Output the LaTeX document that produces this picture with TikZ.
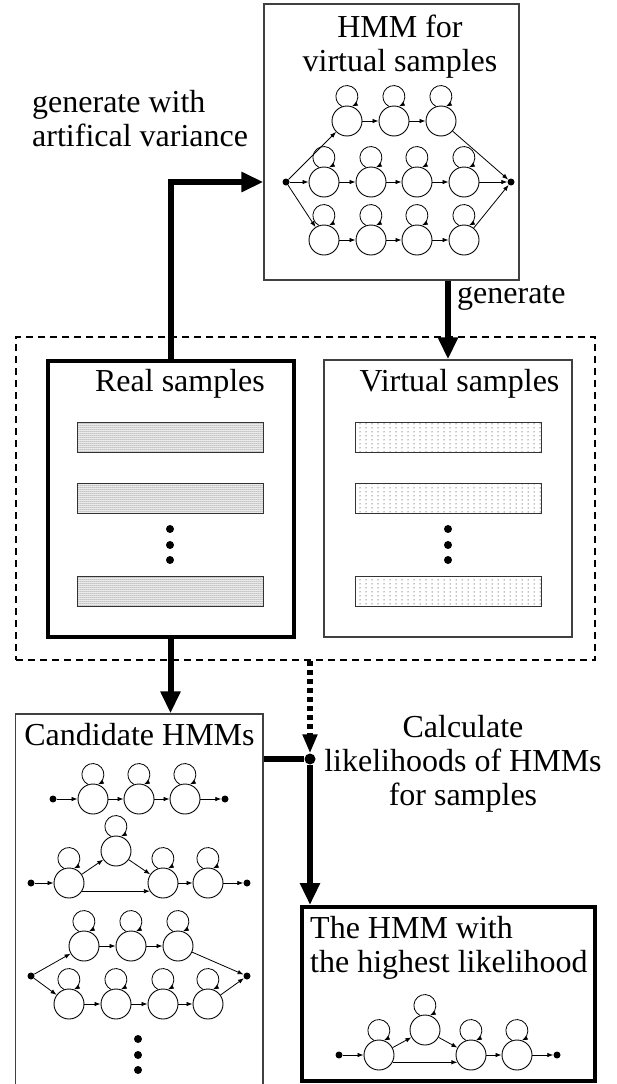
\documentclass[tikz,border=0pt]{standalone}
\usepackage{fontspec}
\setmainfont{Liberation Serif}
\usetikzlibrary{arrows.meta,patterns}

% fill patterns of the sample bars
\pgfdeclarepatternformonly{densedots}{\pgfqpoint{-1pt}{-1pt}}{\pgfqpoint{1pt}{1pt}}{\pgfqpoint{2pt}{2pt}}{%
  \pgfpathcircle{\pgfpointorigin}{0.5pt}\pgfusepath{fill}}
\pgfdeclarepatternformonly{sparsedots}{\pgfqpoint{-1pt}{-1pt}}{\pgfqpoint{5pt}{3pt}}{\pgfqpoint{6pt}{4pt}}{%
  \pgfpathcircle{\pgfpointorigin}{0.5pt}\pgfusepath{fill}}

\tikzset{
  % HMM parts: state circle, start/end dot, transitions
  hstate/.style = {circle, draw=black, line width=0.9pt, minimum size=30pt, inner sep=0pt},
  termdot/.style = {circle, fill=black, minimum size=7pt, inner sep=0pt},
  moredot/.style = {circle, fill=black, minimum size=8pt, inner sep=0pt},
  trans/.style = {-{Latex[length=6pt,width=4.5pt]}, line width=0.8pt},
  selfloop/.style = {trans},
  % boxes
  thinbox/.style = {rectangle, draw=black!75, line width=1.2pt, inner sep=0pt},
  thickbox/.style = {rectangle, draw=black, line width=4pt, inner sep=0pt},
  sampleframe/.style = {rectangle, draw=black, line width=2pt, dash pattern=on 7pt off 5pt, inner sep=0pt},
  realbar/.style = {rectangle, draw=black!80, line width=0.8pt, pattern=densedots,
    minimum width=186pt, minimum height=30pt, inner sep=0pt},
  virtbar/.style = {realbar, pattern=sparsedots},
  boxtitle/.style = {inner sep=0pt, align=center},
  % big arrows between the boxes
  mainflow/.style = {-{Triangle[width=19pt,length=22pt]}, line width=6pt},
  mainline/.style = {line width=6pt},
  dotflow/.style = {-{Triangle[width=14pt,length=19pt]}, line width=5.5pt, dash pattern=on 5pt off 4pt}
}

\begin{document}
\begin{tikzpicture}[x=1pt, y=-1pt, font=\fontsize{32}{34}\selectfont, line join=miter]
  \useasboundingbox (0,0) rectangle (617,1084);
  % Frame - dashed, round both sample boxes:
  \node[sampleframe, minimum width=579pt, minimum height=323pt] (samples) at (305.5,498.5) {};

  % Box 0 - HMM for virtual samples:
  \node[thinbox, minimum width=255pt, minimum height=276pt] (hmmbox) at (391.5,142) {};
  \node[boxtitle, anchor=north] (hmmtitle) at (400,15) {HMM for\\virtual samples};
  \node[termdot] (vS) at (286,182) {};
  \node[termdot] (vE) at (511,182) {};
  \foreach \i/\x in {1/347,2/394,3/441}
    \node[hstate] (vT\i) at (\x,121) {};
  \foreach \i/\x in {1/324,2/371,3/417,4/464} {
    \node[hstate] (vM\i) at (\x,182) {};
    \node[hstate] (vB\i) at (\x,240) {};
  }
  \foreach \n in {vT1,vT2,vT3,vM1,vM2,vM3,vM4,vB1,vB2,vB3,vB4}
    \draw[selfloop] (\n.109) arc[start angle=243.5, end angle=-63.5, radius=11pt];
  \draw[trans] (vS) -- (vT1);
  \draw[trans] (vS) -- (vM1);
  \draw[trans] (vS) -- (vB1);
  \draw[trans] (vT1) -- (vT2);
  \draw[trans] (vT2) -- (vT3);
  \draw[trans] (vT3) -- (vE);
  \foreach \a/\b in {1/2,2/3,3/4} {
    \draw[trans] (vM\a) -- (vM\b);
    \draw[trans] (vB\a) -- (vB\b);
  }
  \draw[trans] (vM4) -- (vE);
  \draw[trans] (vB4) -- (vE);

  % Box 1 - real samples:
  \node[thickbox, minimum width=246pt, minimum height=276pt] (real) at (170.5,499) {};
  \node[anchor=base, inner sep=0pt] (realtitle) at (180,391) {Real samples};
  % Box 2 - virtual samples:
  \node[thinbox, minimum width=248pt, minimum height=277pt] (virt) at (448,498.5) {};
  \node[anchor=base, inner sep=0pt] (virttitle) at (459.5,391) {Virtual samples};
  \foreach \i/\y in {1/437,2/498.5,3/591.5} {
    \node[realbar] (rbar\i) at (170,\y) {};
    \node[virtbar] (vbar\i) at (448,\y) {};
  }
  \foreach \i/\y in {1/529,2/545,3/560} {
    \node[moredot] (rdot\i) at (170,\y) {};
    \node[moredot] (vdot\i) at (448,\y) {};
  }

  % Box 3 - candidate HMMs:
  \node[thinbox, minimum width=247.5pt, minimum height=376pt] (cand) at (139.25,902) {};
  \node[anchor=base, inner sep=0pt] (candtitle) at (139.5,745) {Candidate HMMs};
  % candidate a - chain of three
  \node[termdot] (aS) at (53,799) {};
  \foreach \i/\x in {1/93,2/139,3/185}
    \node[hstate] (a\i) at (\x,799) {};
  \node[termdot] (aE) at (225,799) {};
  \foreach \n in {a1,a2,a3}
    \draw[selfloop] (\n.109) arc[start angle=243.5, end angle=-63.5, radius=11pt];
  \draw[trans] (aS) -- (a1);
  \draw[trans] (a1) -- (a2);
  \draw[trans] (a2) -- (a3);
  \draw[trans] (a3) -- (aE);
  % candidate b - chain with a skip
  \node[termdot] (bS) at (31,883) {};
  \node[hstate] (b1) at (69,883) {};
  \node[hstate] (b2) at (116,851) {};
  \node[hstate] (b3) at (163,883) {};
  \node[hstate] (b4) at (208,883) {};
  \node[termdot] (bE) at (247,883) {};
  \foreach \n in {b1,b2,b3,b4}
    \draw[selfloop] (\n.109) arc[start angle=243.5, end angle=-63.5, radius=11pt];
  \draw[trans] (bS) -- (b1);
  \draw[trans] (b1) -- (b2);
  \draw[trans] (b2) -- (b3);
  \draw[trans] (b1.-32) -- (b3.212);
  \draw[trans] (b3) -- (b4);
  \draw[trans] (b4) -- (bE);
  % candidate c - two branches
  \node[termdot] (cS) at (31,976) {};
  \node[termdot] (cE) at (247,976) {};
  \foreach \i/\x in {1/84,2/131,3/178}
    \node[hstate] (cT\i) at (\x,946) {};
  \foreach \i/\x in {1/69,2/116,3/163,4/208}
    \node[hstate] (cB\i) at (\x,1004) {};
  \foreach \n in {cT1,cT2,cT3,cB1,cB2,cB3,cB4}
    \draw[selfloop] (\n.109) arc[start angle=243.5, end angle=-63.5, radius=11pt];
  \draw[trans] (cS) -- (cT1);
  \draw[trans] (cT1) -- (cT2);
  \draw[trans] (cT2) -- (cT3);
  \draw[trans] (cT3) -- (cE);
  \draw[trans] (cS) -- (cB1);
  \draw[trans] (cB1) -- (cB2);
  \draw[trans] (cB2) -- (cB3);
  \draw[trans] (cB3) -- (cB4);
  \draw[trans] (cB4) -- (cE);
  \foreach \i/\y in {1/1039,2/1055,3/1070}
    \node[moredot] (cdot\i) at (138,\y) {};

  % Box 4 - the chosen HMM:
  \node[thickbox, minimum width=293pt, minimum height=174pt] (best) at (448.5,994) {};
  \node[boxtitle, align=left, anchor=north west] (besttitle) at (310,916) {The HMM with\\the highest likelihood};
  \node[termdot] (hS) at (339,1055) {};
  \node[hstate] (h1) at (379,1055) {};
  \node[hstate] (h2) at (425,1030) {};
  \node[hstate] (h3) at (471,1055) {};
  \node[hstate] (h4) at (517,1055) {};
  \node[termdot] (hE) at (557,1055) {};
  \foreach \n in {h1,h2,h3,h4}
    \draw[selfloop] (\n.109) arc[start angle=243.5, end angle=-63.5, radius=11pt];
  \draw[trans] (hS) -- (h1);
  \draw[trans] (h1) -- (h2);
  \draw[trans] (h2) -- (h3);
  \draw[trans] (h1.-28) -- (h3.208);
  \draw[trans] (h3) -- (h4);
  \draw[trans] (h4) -- (hE);

  % Labels of the flow:
  \node[boxtitle, align=left, anchor=north west] (varlabel) at (32,90) {generate with\\artifical variance};
  \node[anchor=base west, inner sep=0pt] (genlabel) at (457,303) {generate};
  \node[boxtitle, anchor=north] (calclabel) at (463,715) {Calculate\\likelihoods of HMMs\\for samples};

  % Flow - thick arrows between the boxes:
  \node[circle, fill=black, minimum size=11pt, inner sep=0pt] (jn) at (310,759) {};
  \draw[mainflow] (real.north) |- (hmmbox.west |- vS);
  \draw[mainflow] (hmmbox.south -| virt.north) -- (virt.north);
  \draw[mainflow] (real.south) -- (real.south |- cand.north);
  \draw[dotflow] (samples.south -| jn) -- (jn);
  \draw[mainline] (cand.east |- jn) -- (jn);
  \draw[mainflow] (jn) -- (jn |- best.north);
\end{tikzpicture}
\end{document}
